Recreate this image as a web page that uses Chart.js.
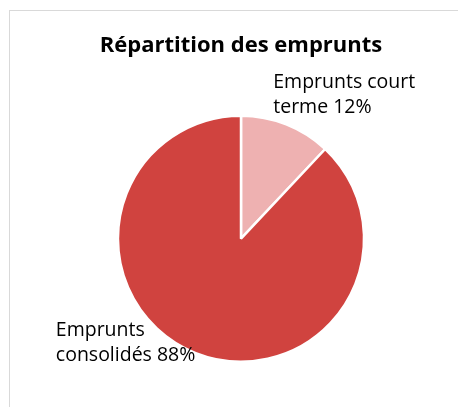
<!DOCTYPE html>
<html>
<head>
<meta charset="utf-8">
<script src="https://cdn.jsdelivr.net/npm/chart.js@4"></script>
<style>
  html, body { margin:0; padding:0; background:#fff; overflow:hidden; }
  body { width:458px; height:407px; position:relative; }
  #box { position:absolute; left:9px; top:10px; width:462px; height:400px; border:1px solid #d9d9d9; }
  canvas { display:block; }
</style>
</head>
<body>
<div id="box"><canvas id="pie" width="462" height="400"></canvas></div>
<script>
// ===== Data =====
const TITLE = 'Répartition des emprunts';
const categories = ['Emprunts court terme', 'Emprunts consolidés'];
const values = [12, 88];
const sliceColors = ['#eeb1b1', '#d0433f'];
// wrapped label text, as in the picture
const labelLines = [
  ['Emprunts court', 'terme 12%'],
  ['Emprunts', 'consolidés 88%']
];

const FONT = '"Open Sans", "Noto Sans", sans-serif';

// draws the data labels next to each slice, relative to the pie radius
const sliceLabels = {
  id: 'sliceLabels',
  afterDatasetsDraw(chart, args, opts) {
    const ctx = chart.ctx;
    const arcs = chart.getDatasetMeta(0).data;
    ctx.save();
    ctx.font = opts.size + 'px ' + FONT;
    ctx.fillStyle = '#000';
    ctx.textAlign = 'left';
    ctx.textBaseline = 'alphabetic';
    arcs.forEach((arc, i) => {
      const r = arc.outerRadius;
      const a = opts.anchors[i];
      const x = arc.x + a.dx * r;
      let y = arc.y + a.dy * r;
      labelLines[i].forEach(line => {
        ctx.fillText(line, x, y);
        y += opts.lineHeight;
      });
    });
    ctx.restore();
  }
};

new Chart(document.getElementById('pie'), {
  type: 'pie',
  data: {
    labels: categories,
    datasets: [{
      data: values,
      backgroundColor: sliceColors,
      borderColor: '#ffffff',
      borderWidth: 2.5
    }]
  },
  options: {
    responsive: false,
    animation: false,
    layout: { padding: { top: 22, bottom: 48, left: 0, right: 0 } },
    plugins: {
      legend: { display: false },
      tooltip: { enabled: false },
      title: {
        display: true,
        text: TITLE,
        color: '#000',
        font: { family: FONT, size: 22, weight: 'bold' },
        padding: { top: 0, bottom: 55 }
      },
      sliceLabels: {
        size: 19.5,
        lineHeight: 25,
        anchors: [
          { dx: 0.262, dy: -1.225 },
          { dx: -1.505, dy: 0.79 }
        ]
      }
    }
  },
  plugins: [sliceLabels]
});
</script>
</body>
</html>
